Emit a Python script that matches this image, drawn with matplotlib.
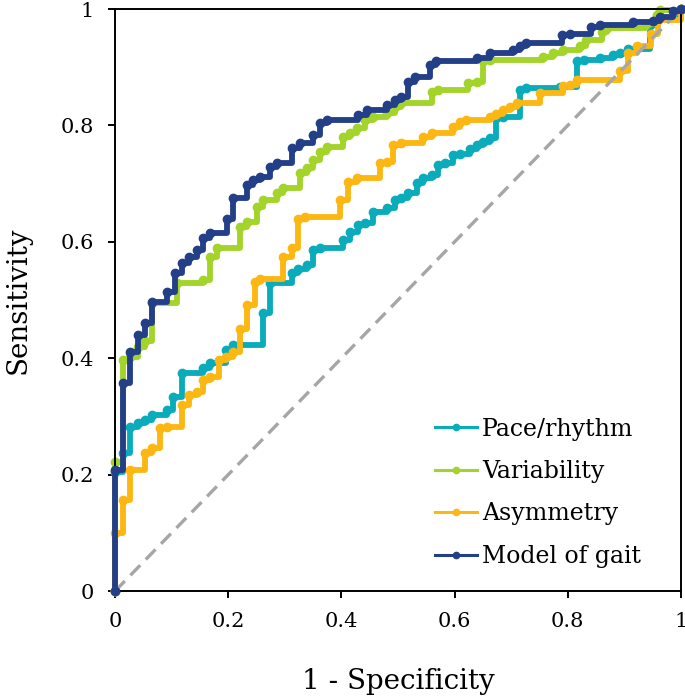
import matplotlib
matplotlib.use("Agg")
import matplotlib.pyplot as plt
from matplotlib.lines import Line2D

plt.rcParams['font.family'] = ['DejaVu Serif']

# ROC step points (1 - specificity, sensitivity)
pace_x = [0, 0, 0.0136, 0.0265, 0.04, 0.053, 0.065, 0.091, 0.103, 0.118, 0.156, 0.168, 0.196, 0.209,
          0.262, 0.274, 0.312, 0.324, 0.339, 0.35, 0.362, 0.403, 0.415, 0.43, 0.442, 0.456, 0.48,
          0.495, 0.506, 0.518, 0.533, 0.545, 0.56, 0.571, 0.583, 0.598, 0.61, 0.627, 0.639, 0.651,
          0.663, 0.674, 0.686, 0.716, 0.727, 0.786, 0.816, 0.828, 0.857, 0.88, 0.892, 0.907, 0.945,
          0.957, 1.0]
pace_y = [0, 0.205, 0.237, 0.282, 0.288, 0.294, 0.302, 0.311, 0.334, 0.374, 0.383, 0.392, 0.414, 0.423,
          0.477, 0.529, 0.546, 0.553, 0.56, 0.586, 0.589, 0.603, 0.617, 0.629, 0.632, 0.652, 0.658,
          0.672, 0.675, 0.684, 0.701, 0.71, 0.715, 0.732, 0.735, 0.749, 0.751, 0.76, 0.766, 0.772,
          0.778, 0.812, 0.815, 0.861, 0.864, 0.866, 0.91, 0.912, 0.916, 0.921, 0.924, 0.932, 0.973,
          0.985, 1.0]

var_x = [0, 0, 0.0136, 0.0265, 0.04, 0.053, 0.065, 0.109, 0.156, 0.168, 0.18, 0.221, 0.233, 0.25,
         0.262, 0.286, 0.297, 0.327, 0.339, 0.35, 0.362, 0.374, 0.403, 0.415, 0.427, 0.442, 0.456,
         0.48, 0.495, 0.506, 0.56, 0.571, 0.624, 0.639, 0.651, 0.663, 0.757, 0.774, 0.792, 0.822,
         0.833, 0.86, 0.869, 0.939, 0.957, 0.963, 1.0]
var_y = [0, 0.222, 0.397, 0.402, 0.42, 0.43, 0.495, 0.529, 0.534, 0.574, 0.589, 0.626, 0.634, 0.66,
         0.672, 0.684, 0.692, 0.718, 0.727, 0.741, 0.755, 0.763, 0.781, 0.787, 0.795, 0.809, 0.815,
         0.821, 0.832, 0.838, 0.858, 0.861, 0.873, 0.875, 0.91, 0.912, 0.918, 0.924, 0.93, 0.936,
         0.947, 0.96, 0.967, 0.975, 0.99, 0.998, 1.0]

asym_x = [0, 0, 0.0136, 0.0265, 0.053, 0.065, 0.0795, 0.091, 0.118, 0.13, 0.144, 0.156, 0.168,
          0.183, 0.196, 0.209, 0.221, 0.233, 0.247, 0.256, 0.297, 0.312, 0.324, 0.336, 0.398, 0.412,
          0.427, 0.468, 0.48, 0.492, 0.506, 0.545, 0.56, 0.598, 0.61, 0.621, 0.663, 0.674, 0.686,
          0.698, 0.71, 0.751, 0.792, 0.804, 0.816, 0.892, 0.907, 0.922, 0.948, 0.96, 1.0]
asym_y = [0, 0.099, 0.156, 0.208, 0.237, 0.246, 0.28, 0.282, 0.32, 0.337, 0.342, 0.363, 0.368,
          0.397, 0.402, 0.411, 0.451, 0.491, 0.531, 0.537, 0.574, 0.589, 0.64, 0.643, 0.672, 0.703,
          0.709, 0.735, 0.737, 0.766, 0.77, 0.781, 0.787, 0.798, 0.806, 0.809, 0.815, 0.82, 0.826,
          0.832, 0.838, 0.855, 0.867, 0.87, 0.878, 0.893, 0.924, 0.936, 0.957, 0.981, 1.0]

gait_x = [0, 0, 0.0136, 0.0265, 0.04, 0.053, 0.065, 0.091, 0.106, 0.118, 0.13, 0.144, 0.156, 0.168,
          0.197, 0.209, 0.233, 0.244, 0.256, 0.274, 0.286, 0.312, 0.327, 0.35, 0.362, 0.374, 0.43,
          0.445, 0.48, 0.495, 0.506, 0.518, 0.53, 0.557, 0.568, 0.639, 0.663, 0.704, 0.716, 0.727,
          0.789, 0.804, 0.842, 0.857, 0.916, 0.95, 0.963, 0.986, 1.0]
gait_y = [0, 0.208, 0.357, 0.411, 0.44, 0.46, 0.497, 0.514, 0.546, 0.563, 0.574, 0.586, 0.606, 0.615,
          0.64, 0.675, 0.697, 0.706, 0.712, 0.729, 0.735, 0.761, 0.77, 0.784, 0.804, 0.809, 0.818,
          0.826, 0.835, 0.844, 0.849, 0.875, 0.884, 0.904, 0.91, 0.916, 0.924, 0.93, 0.936, 0.942,
          0.955, 0.957, 0.97, 0.973, 0.978, 0.98, 0.987, 0.996, 1.0]

names = ['Pace/rhythm', 'Variability', 'Asymmetry', 'Model of gait']
colors = ['#0aabbb', '#a2d42a', '#fcb712', '#233f88']
ticks = [0, 0.2, 0.4, 0.6, 0.8, 1]
tick_labels = ['0', '0.2', '0.4', '0.6', '0.8', '1']

fig = plt.figure(figsize=(6.85, 6.97), dpi=100)
ax = fig.add_axes([0.168, 0.152, 0.826, 0.835])

series = [(pace_x, pace_y), (var_x, var_y), (asym_x, asym_y), (gait_x, gait_y)]
for i, (xs, ys) in enumerate(series):
    z = 4 if i == 3 else 2
    ax.plot(xs, ys, drawstyle='steps-post', color=colors[i], lw=4.2, zorder=z,
            solid_capstyle='round', clip_on=False)
    ax.plot(xs, ys, 'o', color=colors[i], ms=6, zorder=z, clip_on=False)

ax.plot([0, 1], [0, 1], color='#a6a6a6', lw=2.4, dashes=(4.2, 2.4), zorder=3)

ax.set_xlim(0, 1)
ax.set_ylim(0, 1)
ax.set_xticks(ticks)
ax.set_xticklabels(tick_labels)
ax.set_yticks(ticks)
ax.set_yticklabels(tick_labels)
ax.tick_params(direction='out', length=5, width=1.4, labelsize=15, pad=10)
for s in ax.spines.values():
    s.set_linewidth(1.4)

ax.set_xlabel('1 - Specificity', fontsize=20)
ax.set_ylabel('Sensitivity', fontsize=20)
ax.xaxis.set_label_coords(0.5, -0.132)
ax.yaxis.set_label_coords(-0.148, 0.5)

handles = [Line2D([], [], color=c, lw=2.2, marker='o', ms=4.5) for c in colors]
ax.legend(handles, names, loc='lower left', frameon=False, fontsize=17,
          handlelength=1.8, handletextpad=0.2, labelspacing=0.82,
          borderpad=0, borderaxespad=0, bbox_to_anchor=(0.565, 0.04))

fig.savefig('out.png', dpi=100)
